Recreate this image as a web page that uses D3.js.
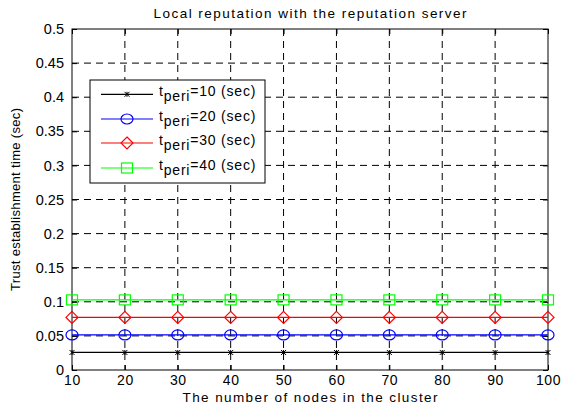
<!DOCTYPE html>
<html><head><meta charset="utf-8">
<script src="https://cdn.jsdelivr.net/npm/d3@7"></script>
<style>body{margin:0;background:#fff}svg{display:block;font-family:"Liberation Sans",Arial,sans-serif}</style>
</head><body>
<svg id="c" width="563" height="408"></svg>
<script>
const nodes = [10,20,30,40,50,60,70,80,90,100];
const xTicks = [10,20,30,40,50,60,70,80,90,100];
const yTicks = [0,0.05,0.1,0.15,0.2,0.25,0.3,0.35,0.4,0.45,0.5];
const yTickLabels = ["0","0.05","0.1","0.15","0.2","0.25","0.3","0.35","0.4","0.45","0.5"];
const seriesNames = ["10","20","30","40"];
const seriesColors = ["#000000","#0000ff","#ff0000","#00ff00"];
const seriesMarkers = ["x","circle","diamond","square"];
const s10 = [0.0257,0.0257,0.0257,0.0257,0.0257,0.0257,0.0257,0.0257,0.0257,0.0257];
const s20 = [0.0514,0.0514,0.0514,0.0514,0.0514,0.0514,0.0514,0.0514,0.0514,0.0514];
const s30 = [0.0771,0.0771,0.0771,0.0771,0.0771,0.0771,0.0771,0.0771,0.0771,0.0771];
const s40 = [0.1028,0.1028,0.1028,0.1028,0.1028,0.1028,0.1028,0.1028,0.1028,0.1028];
const allSeries = [s10,s20,s30,s40];

const svg = d3.select("#c");
const L=72,R=548,T=29,B=370;
const x = d3.scaleLinear().domain([10,100]).range([L,R]);
const y = d3.scaleLinear().domain([0,0.5]).range([B,T]);
const FONT='"Liberation Sans",Arial,sans-serif';

// grid
const g = svg.append("g");
xTicks.forEach(t=>{ if(t>10 && t<100) g.append("line").attr("x1",x(t)).attr("x2",x(t)).attr("y1",T).attr("y2",B).attr("stroke","#000").attr("stroke-width",1).attr("stroke-dasharray","7,5"); });
yTicks.forEach(t=>{ if(t>0 && t<0.5) g.append("line").attr("x1",L).attr("x2",R).attr("y1",y(t)).attr("y2",y(t)).attr("stroke","#000").attr("stroke-width",1).attr("stroke-dasharray","7,5"); });

// axes
const xa = svg.append("g").attr("transform",`translate(0,${B})`).call(d3.axisBottom(x).tickValues(xTicks).tickSize(-5).tickPadding(5).tickFormat(d3.format("d")));
const xt = svg.append("g").attr("transform",`translate(0,${T})`).call(d3.axisTop(x).tickValues(xTicks).tickSize(-5).tickFormat(""));
const ya = svg.append("g").attr("transform",`translate(${L},0)`).call(d3.axisLeft(y).tickValues(yTicks).tickSize(-5).tickPadding(8).tickFormat((d,i)=>yTickLabels[i]));
const yr = svg.append("g").attr("transform",`translate(${R},0)`).call(d3.axisRight(y).tickValues(yTicks).tickSize(-5).tickFormat(""));
[xa,xt,ya,yr].forEach(a=>{a.select(".domain").remove(); a.selectAll("line").attr("stroke","#000"); a.selectAll("text").attr("fill","#000").style("font-size","14.5px").style("font-family",FONT);});
xa.selectAll("text").style("font-size","14px").style("letter-spacing","0.6px");
svg.append("rect").attr("x",L).attr("y",T).attr("width",R-L).attr("height",B-T).attr("fill","none").attr("stroke","#000").attr("stroke-width",1);

function marker(sel, type, cx, cy, color){
  if(type==="x"){
    const s=2.5;
    sel.append("path").attr("d",`M${cx-s},${cy-s}L${cx+s},${cy+s}M${cx-s},${cy+s}L${cx+s},${cy-s}M${cx},${cy-s}L${cx},${cy+s}`).attr("stroke",color).attr("stroke-width",1).attr("fill","none");
  } else if(type==="circle"){
    sel.append("ellipse").attr("cx",cx).attr("cy",cy).attr("rx",6).attr("ry",5).attr("fill","none").attr("stroke",color).attr("stroke-width",1.2);
  } else if(type==="diamond"){
    const s=6;
    sel.append("path").attr("d",`M${cx},${cy-s}L${cx+s},${cy}L${cx},${cy+s}L${cx-s},${cy}Z`).attr("fill","none").attr("stroke",color).attr("stroke-width",1.2);
  } else {
    sel.append("rect").attr("x",cx-5.5).attr("y",cy-5).attr("width",11).attr("height",10).attr("fill","none").attr("stroke",color).attr("stroke-width",1.2);
  }
}

const line = d3.line().x((d,i)=>x(nodes[i])).y(d=>y(d));
allSeries.forEach((s,k)=>{
  svg.append("path").datum(s).attr("d",line).attr("fill","none").attr("stroke",seriesColors[k]).attr("stroke-width",1.2);
  const mg = svg.append("g");
  s.forEach((v,i)=>marker(mg,seriesMarkers[k],x(nodes[i]),y(v),seriesColors[k]));
});

// legend
const lg = svg.append("g");
lg.append("rect").attr("x",90).attr("y",80).attr("width",175).attr("height",103).attr("fill","#fff").attr("stroke","#000").attr("stroke-width",1);
const rowY = [94.3,119,143,168];
seriesNames.forEach((n,k)=>{
  const ly = rowY[k];
  lg.append("line").attr("x1",101).attr("x2",153).attr("y1",ly).attr("y2",ly).attr("stroke",seriesColors[k]).attr("stroke-width",1.2);
  marker(lg,seriesMarkers[k],127,ly,seriesColors[k]);
  const t = lg.append("text").attr("x",159).attr("y",ly+2).style("font-size","14px").style("letter-spacing","0.8px").attr("fill","#000");
  t.append("tspan").text("t");
  t.append("tspan").attr("dy",5).style("font-size","14px").text("peri");
  t.append("tspan").attr("dy",-5).text("="+n+" (sec)");
});

svg.append("text").attr("x",(L+R)/2).attr("y",18).attr("text-anchor","middle").style("font-size","13.5px")
  .attr("textLength",313).attr("lengthAdjust","spacing").text("Local reputation with the reputation server");
svg.append("text").attr("x",(L+R)/2).attr("y",402).attr("text-anchor","middle").style("font-size","13.5px")
  .attr("textLength",255).attr("lengthAdjust","spacing").text("The number of nodes in the cluster");
svg.append("text").attr("transform",`translate(20,${(T+B)/2}) rotate(-90)`).attr("text-anchor","middle").style("font-size","13px")
  .attr("textLength",183).attr("lengthAdjust","spacing").text("Trust establishment time (sec)");
</script>
</body></html>
